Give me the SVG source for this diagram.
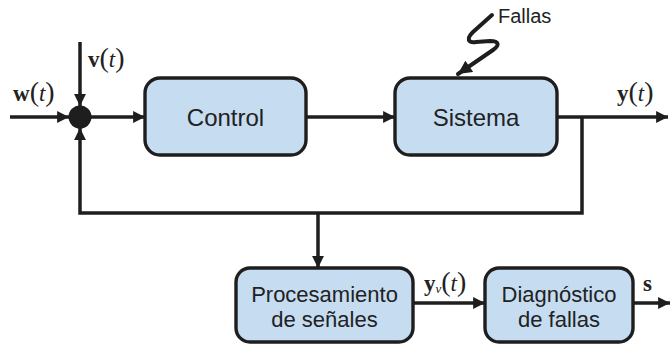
<svg xmlns="http://www.w3.org/2000/svg" width="670" height="345" viewBox="0 0 670 345">
  <style>
    .box { fill: #c6dcf1; stroke: #1e1e1e; stroke-width: 3.4; }
    .lbl { font-family: "Liberation Sans", Arial, sans-serif; font-size: 22px; fill: #222; text-anchor: middle; }
    .big { font-size: 24px; }
    .wire { fill: none; stroke: #1e1e1e; stroke-width: 3.5; }
    .bolt { fill: none; stroke: #1e1e1e; stroke-width: 4; stroke-linecap: round; stroke-linejoin: round; }
    .math { font-family: "Liberation Serif", "Times New Roman", serif; font-size: 23px; fill: #222; }
    .b { font-weight: bold; }
    .i { font-style: italic; }
    .par { font-size: 28px; }
  </style>
  <defs>
    <marker id="arrow" viewBox="0 0 10 10" refX="10" refY="5" markerWidth="3.6" markerHeight="3.4" orient="auto" markerUnits="strokeWidth">
      <path d="M0,0 L10,5 L0,10 Z" fill="#1e1e1e"/>
    </marker>
  </defs>

  <rect width="670" height="345" fill="#ffffff"/>

  <!-- connectors -->
  <g id="connectors">
    <line class="wire" x1="10" y1="117" x2="69" y2="117" marker-end="url(#arrow)"/>
    <line class="wire" x1="80" y1="42" x2="80" y2="106" marker-end="url(#arrow)"/>
    <line class="wire" x1="91" y1="117" x2="145" y2="117" marker-end="url(#arrow)"/>
    <line class="wire" x1="306" y1="117" x2="395" y2="117" marker-end="url(#arrow)"/>
    <line class="wire" x1="557" y1="117" x2="668" y2="117" marker-end="url(#arrow)"/>
    <polyline class="wire" points="582,117 582,213 80,213 80,128" marker-end="url(#arrow)"/>
    <line class="wire" x1="318" y1="213" x2="318" y2="268" marker-end="url(#arrow)"/>
    <line class="wire" x1="413" y1="303" x2="485" y2="303" marker-end="url(#arrow)"/>
    <line class="wire" x1="633" y1="303" x2="670" y2="303" marker-end="url(#arrow)"/>
    <path class="bolt" d="M492,15 L473,32 C466,39 468,43 476,42 L490,41 C499,41 500,45 493,50 L458,74" marker-end="url(#arrow)"/>
  </g>

  <!-- summing junction -->
  <g id="sum">
    <circle cx="80" cy="117" r="11.5" fill="#1e1e1e"/>
  </g>

  <g id="control">
    <rect class="box" x="145" y="78" width="161" height="77" rx="15"/>
    <text class="lbl big" x="225.5" y="126">Control</text>
  </g>

  <g id="sistema">
    <rect class="box" x="395" y="78" width="162" height="77" rx="15"/>
    <text class="lbl big" x="476" y="126">Sistema</text>
  </g>

  <g id="procesamiento">
    <rect class="box" x="236" y="268" width="177" height="74" rx="14"/>
    <text class="lbl" x="324.5" y="302">Procesamiento</text>
    <text class="lbl" x="324.5" y="327">de señales</text>
  </g>

  <g id="diagnostico">
    <rect class="box" x="485" y="268" width="148" height="74" rx="14"/>
    <text class="lbl" x="559" y="302">Diagnóstico</text>
    <text class="lbl" x="559" y="327">de fallas</text>
  </g>

  <!-- signal labels -->
  <g id="labels">
    <text class="lbl" x="498" y="23" style="text-anchor:start;font-size:20px">Fallas</text>
    <text class="math" x="13" y="101"><tspan class="b">w</tspan><tspan class="par">(</tspan><tspan class="i">t</tspan><tspan class="par">)</tspan></text>
    <text class="math" x="88" y="67"><tspan class="b">v</tspan><tspan class="par">(</tspan><tspan class="i">t</tspan><tspan class="par">)</tspan></text>
    <text class="math" x="617" y="101"><tspan class="b">y</tspan><tspan class="par">(</tspan><tspan class="i">t</tspan><tspan class="par">)</tspan></text>
    <text class="math" x="424" y="291"><tspan class="b">y</tspan><tspan class="i" font-size="13" dy="2">v</tspan><tspan class="par" dy="-2">(</tspan><tspan class="i">t</tspan><tspan class="par">)</tspan></text>
    <text class="math b" x="643" y="291">s</text>
  </g>
</svg>
